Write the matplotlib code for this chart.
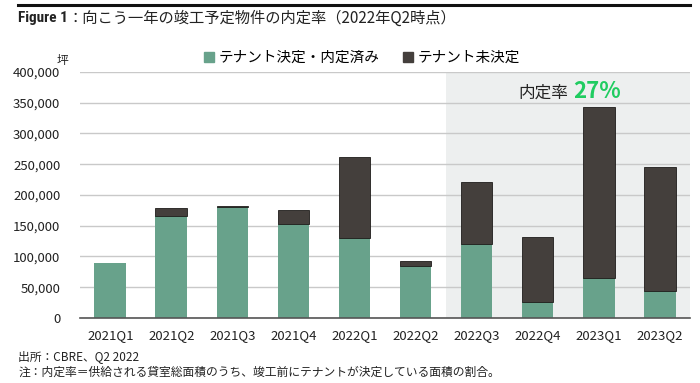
import matplotlib
matplotlib.use("Agg")
import matplotlib.pyplot as plt
from matplotlib.lines import Line2D
from matplotlib.patches import Rectangle
import numpy as np

plt.rcParams['font.family'] = ['Noto Sans CJK JP', 'DejaVu Sans']

quarters = ['2021Q1', '2021Q2', '2021Q3', '2021Q4', '2022Q1',
            '2022Q2', '2022Q3', '2022Q4', '2023Q1', '2023Q2']
decided = [89000, 165000, 181000, 152000, 130000, 85000, 121000, 25500, 65500, 44000]
undecided = [0, 14000, 1000, 23500, 131000, 7000, 100000, 105500, 277500, 202000]
yticks = [0, 50000, 100000, 150000, 200000, 250000, 300000, 350000, 400000]

GREEN = '#68a28b'
DARK = '#443f3c'

fig = plt.figure(figsize=(7.0, 3.83), dpi=100)
ax = fig.add_axes([0.114, 0.170, 0.872, 0.642])

x = np.arange(len(quarters))
w = 0.52
ax.axvspan(5.5, 9.5, color='#edefef', zorder=0, lw=0)
ax.bar(x, decided, width=w, color=GREEN, zorder=3, lw=0)
edges = ['#1e1c1a' if u > 0 else 'none' for u in undecided]
ax.bar(x, undecided, width=w, bottom=decided, color=DARK, zorder=3,
       edgecolor=edges, lw=0.6)

ax.set_xlim(-0.5, 9.5)
ax.set_ylim(0, 400000)
ax.set_yticks(yticks)
ax.set_yticklabels([f'{v:,}' for v in yticks], fontsize=9.5, color='#222222')
ax.set_xticks(x)
ax.set_xticklabels(quarters, fontsize=9.5, color='#222222')
ax.tick_params(axis='both', length=0, pad=8)
ax.tick_params(axis='y', pad=14)
ax.grid(axis='y', color='#c9c9c9', lw=1.0, zorder=1)
for s in ['top', 'right', 'left']:
    ax.spines[s].set_visible(False)
ax.spines['bottom'].set_color('#555555')
ax.spines['bottom'].set_linewidth(1.2)
ax.spines['bottom'].set_zorder(4)

# annotation
ax.text(0.80, 0.915, '内定率', transform=ax.transAxes, ha='right', va='center',
        fontsize=12, color='#222222')
ax.text(0.808, 0.92, '27%', transform=ax.transAxes, ha='left', va='center',
        fontsize=16, color='#1fcc60', fontweight='bold')

# legend
handles = [Rectangle((0, 0), 1, 1, color=GREEN), Rectangle((0, 0), 1, 1, color=DARK)]
fig.legend(handles, ['テナント決定・内定済み', 'テナント未決定'], loc='center',
           bbox_to_anchor=(0.517, 0.848), ncol=2, frameon=False, fontsize=10.5,
           handlelength=0.7, handleheight=0.7, handletextpad=0.3, columnspacing=1.6)

# unit
fig.text(0.098, 0.842, '坪', ha='right', va='center', fontsize=8.5, color='#222222')

# top rule and title
fig.add_artist(Line2D([0.026, 0.986], [0.987, 0.987], color='#111111', lw=2.2))
fig.text(0.026, 0.952, 'Figure 1', ha='left', va='center', fontsize=11,
         fontweight='bold', color='#222222', family=['Roboto Condensed', 'Noto Sans', 'DejaVu Sans'])
fig.text(0.096, 0.952, '：向こう一年の竣工予定物件の内定率（2022年Q2時点）', ha='left', va='center',
         fontsize=11, color='#222222')

# footer
fig.text(0.026, 0.068, '出所：CBRE、Q2 2022', ha='left', va='center', fontsize=8.5, color='#222222')
fig.text(0.026, 0.028, '注：内定率＝供給される貸室総面積のうち、竣工前にテナントが決定している面積の割合。',
         ha='left', va='center', fontsize=8.5, color='#222222')

fig.savefig('out.png', dpi=100)
